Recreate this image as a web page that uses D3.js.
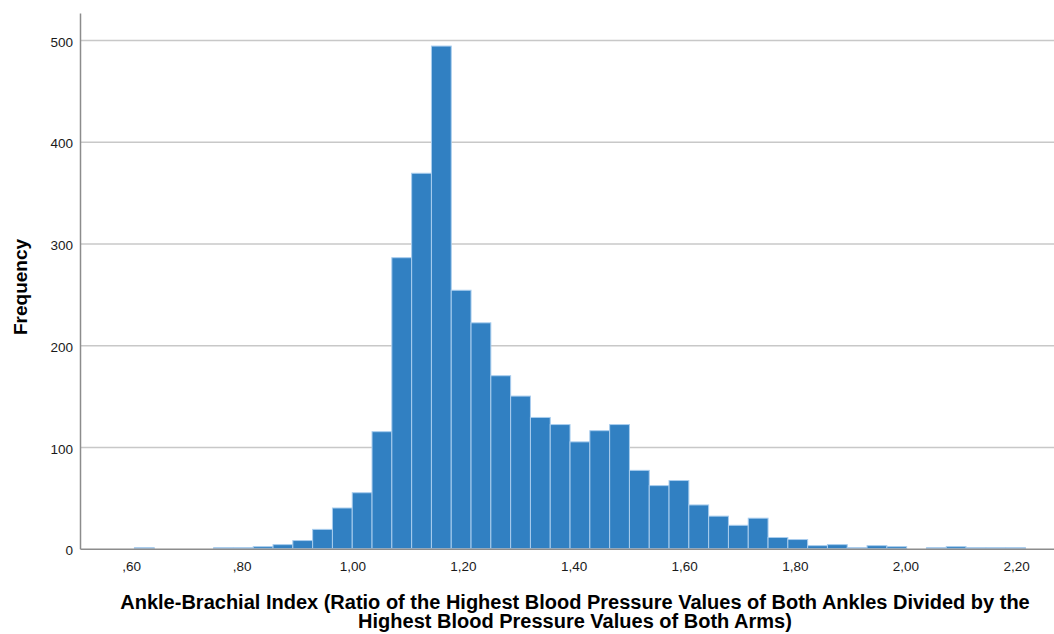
<!DOCTYPE html>
<html>
<head>
<meta charset="utf-8">
<script src="https://cdn.jsdelivr.net/npm/d3@7"></script>
<style>
  html, body { margin: 0; padding: 0; background: #fff; }
  svg { display: block; font-family: "Liberation Sans", Arial, sans-serif; }
</style>
</head>
<body>
<div id="chart"></div>
<script>
// histogram bins: lower edge of first bin and width
const binStart = 0.606,
      binWidth = 0.0358

// counts, one per bin
const frequency = [
  1, 0, 0, 0, 1, 1, 2, 4, 8, 19,
  40, 55, 115, 286, 369, 494, 254, 222, 170, 150,
  129, 122, 105, 116, 122, 77, 62, 67, 43, 32,
  23, 30, 11, 9, 3, 4, 1, 3, 2, 0,
  1, 2, 1, 1, 1
]

const xTickValues = [0.6, 0.8, 1.0, 1.2, 1.4, 1.6, 1.8, 2.0, 2.2],
      xTickLabels = [',60', ',80', '1,00', '1,20', '1,40', '1,60', '1,80', '2,00', '2,20']

const yTickValues = [0, 100, 200, 300, 400, 500]

const xTitle = [
  'Ankle-Brachial Index (Ratio of the Highest Blood Pressure Values of Both Ankles Divided by the',
  'Highest Blood Pressure Values of Both Arms)'
],
      yTitle = 'Frequency'

const width = 1054,
      height = 634,
      plotLeft = 80,
      plotRight = 1054,
      plotTop = 13,
      plotBottom = 548.7

const xScale = d3.scaleLinear()
                 .domain([0.5076, 2.2686])
                 .range([plotLeft, plotRight]),

      yScale = d3.scaleLinear()
                 .domain([0, 526.5])
                 .range([plotBottom, plotTop])

const bins = frequency.map(function(n, i) {
  return { x0: binStart + i * binWidth, x1: binStart + (i + 1) * binWidth, n: n }
}).filter(function(b) { return b.n > 0 })

const svg = d3.select('#chart')
              .append('svg')
              .attr('width', width)
              .attr('height', height)

// horizontal grid
const grid = svg.append('g')
                .attr('transform', 'translate(' + plotLeft + ',0)')
                .call(d3.axisLeft(yScale)
                        .tickValues(yTickValues.filter(function(d) { return d > 0 }))
                        .tickSize(-(plotRight - plotLeft))
                        .tickFormat(''))
grid.select('.domain').remove()
grid.selectAll('line')
    .attr('stroke', '#c8c8c8')
    .attr('stroke-width', 1.5)

// bars
svg.append('g')
   .selectAll('rect')
   .data(bins)
   .enter()
   .append('rect')
   .attr('x', function(d) { return xScale(d.x0) })
   .attr('width', function(d) { return xScale(d.x1) - xScale(d.x0) })
   .attr('y', function(d) { return yScale(d.n) })
   .attr('height', function(d) { return plotBottom - yScale(d.n) })
   .attr('fill', '#3180c2')
   .attr('stroke', '#a9cdee')
   .attr('stroke-width', 1)

// y axis
const yAxis = svg.append('g')
                 .attr('transform', 'translate(' + plotLeft + ',0)')
                 .call(d3.axisLeft(yScale).tickValues(yTickValues).tickSize(0).tickPadding(7))
yAxis.select('.domain')
     .attr('stroke', '#8c8c8c')
     .attr('stroke-width', 1.5)
yAxis.selectAll('text')
     .attr('fill', '#1a1a1a')
     .attr('dy', '0.45em')
     .style('font-size', '13.5px')

// x axis
const xAxis = svg.append('g')
                 .attr('transform', 'translate(0,' + plotBottom + ')')
                 .call(d3.axisBottom(xScale)
                         .tickValues(xTickValues)
                         .tickSize(0)
                         .tickPadding(13)
                         .tickFormat(function(d, i) { return xTickLabels[i] }))
xAxis.select('.domain')
     .attr('stroke', '#8c8c8c')
     .attr('stroke-width', 1.5)
xAxis.selectAll('text')
     .attr('fill', '#1a1a1a')
     .style('font-size', '13.5px')

// titles
svg.append('text')
   .attr('transform', 'translate(27,287) rotate(-90)')
   .attr('text-anchor', 'middle')
   .attr('fill', '#000')
   .style('font-size', '19px')
   .style('font-weight', 'bold')
   .text(yTitle)

svg.append('text')
   .attr('text-anchor', 'middle')
   .attr('fill', '#000')
   .style('font-size', '20px')
   .style('font-weight', 'bold')
   .selectAll('tspan')
   .data(xTitle)
   .enter()
   .append('tspan')
   .attr('x', 575)
   .attr('y', function(d, i) { return 609 + i * 19 })
   .text(function(d) { return d })
</script>
</body>
</html>
